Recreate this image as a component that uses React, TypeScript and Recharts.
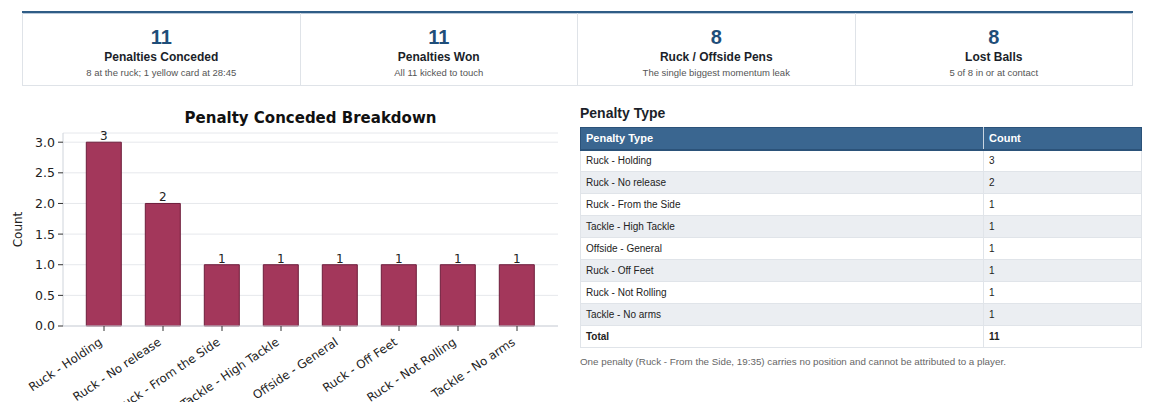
import React from 'react';
import { BarChart, Bar, XAxis, YAxis, CartesianGrid, LabelList } from 'recharts';

const categories = [
  'Ruck - Holding',
  'Ruck - No release',
  'Ruck - From the Side',
  'Tackle - High Tackle',
  'Offside - General',
  'Ruck - Off Feet',
  'Ruck - Not Rolling',
  'Tackle - No arms',
];
const counts = [3, 2, 1, 1, 1, 1, 1, 1];
const yTicks = [0, 0.5, 1, 1.5, 2, 2.5, 3];

const kpiValues = ['11', '11', '8', '8'];
const kpiLabels = ['Penalties Conceded', 'Penalties Won', 'Ruck / Offside Pens', 'Lost Balls'];
const kpiNotes = [
  '8 at the ruck; 1 yellow card at 28:45',
  'All 11 kicked to touch',
  'The single biggest momentum leak',
  '5 of 8 in or at contact',
];

const tableHeaders = ['Penalty Type', 'Count'];
const totalLabel = 'Total';
const totalValue = 11;
const footnote =
  'One penalty (Ruck - From the Side, 19:35) carries no position and cannot be attributed to a player.';

const chartData = categories.map((name, i) => ({ name, count: counts[i] }));

const SANS = '"Liberation Sans", Arial, Helvetica, sans-serif';
const DJ = '"DejaVu Sans", sans-serif';

const XTick = (props: any) => {
  const { x, y, payload } = props;
  const px = x - 1;
  const py = y + 11;
  return (
    <text
      x={px}
      y={py}
      transform={`rotate(-34 ${px} ${py})`}
      textAnchor="end"
      fontSize={11.8}
      fontFamily={DJ}
      fill="#222"
    >
      {payload.value}
    </text>
  );
};

const CountLabel = (props: any) => {
  const { viewBox } = props;
  const cy = viewBox ? viewBox.y + viewBox.height / 2 : 230;
  return (
    <text
      x={22}
      y={cy}
      transform={`rotate(-90 22 ${cy})`}
      textAnchor="middle"
      fontSize={12}
      fontFamily={DJ}
      fill="#222"
    >
      Count
    </text>
  );
};

const cellStyle: React.CSSProperties = { padding: '0 5px', border: '1px solid #e0e4e9' };

export default function App() {
  return (
    <div
      style={{
        position: 'absolute',
        left: 0,
        top: 0,
        width: 1152,
        height: 402,
        overflow: 'hidden',
        background: '#fff',
      }}
    >
      {/* KPI strip */}
      <div
        style={{
          position: 'absolute',
          left: 22,
          top: 11,
          width: 1111,
          height: 75,
          borderTop: '2px solid #2f5d86',
          boxShadow: '0 1px 0 #b9c9da inset',
          display: 'flex',
          boxSizing: 'border-box',
        }}
      >
        {kpiValues.map((v, i) => (
          <div
            key={i}
            style={{
              flex: 1,
              borderLeft: '1px solid #dfe3e8',
              borderRight: i === 3 ? '1px solid #dfe3e8' : 'none',
              borderBottom: '1px solid #dfe3e8',
              textAlign: 'center',
              fontFamily: SANS,
              position: 'relative',
            }}
          >
            <div
              style={{
                position: 'absolute',
                left: 0,
                right: 0,
                top: 12,
                fontSize: 20,
                fontWeight: 700,
                color: '#1f4e79',
                lineHeight: '24px',
              }}
            >
              {v}
            </div>
            <div
              style={{
                position: 'absolute',
                left: 0,
                right: 0,
                top: 36,
                fontSize: 12,
                fontWeight: 700,
                color: '#1b1f2a',
                lineHeight: '16px',
              }}
            >
              {kpiLabels[i]}
            </div>
            <div
              style={{
                position: 'absolute',
                left: 0,
                right: 0,
                top: 54,
                fontSize: 9.5,
                color: '#555',
                lineHeight: '12px',
              }}
            >
              {kpiNotes[i]}
            </div>
          </div>
        ))}
      </div>

      {/* Chart title */}
      <div
        style={{
          position: 'absolute',
          left: 63,
          width: 495,
          top: 108,
          textAlign: 'center',
          fontFamily: DJ,
          fontWeight: 700,
          fontSize: 15,
          lineHeight: '20px',
          color: '#111',
        }}
      >
        Penalty Conceded Breakdown
      </div>

      {/* Bar chart */}
      <div style={{ position: 'absolute', left: 0, top: 0 }}>
        <BarChart
          width={570}
          height={402}
          data={chartData}
          margin={{ top: 133, right: 12, bottom: 46, left: 0 }}
          barCategoryGap="20%"
        >
          <CartesianGrid vertical={false} stroke="#e6e8ec" strokeWidth={1} />
          <XAxis
            dataKey="name"
            interval={0}
            height={30}
            padding={{ left: 11.5, right: 11.5 }}
            axisLine={{ stroke: '#cfd4db' }}
            tickLine={{ stroke: '#333' }}
            tickSize={5}
            tickMargin={2}
            tick={<XTick />}
          />
          <YAxis
            width={63}
            type="number"
            domain={[0, 3.15]}
            ticks={yTicks}
            tickFormatter={(v: number) => v.toFixed(1)}
            axisLine={{ stroke: '#cfd4db' }}
            tickLine={{ stroke: '#333' }}
            tickSize={5}
            tickMargin={3}
            tick={{ fontSize: 12.5, fontFamily: DJ, fill: '#222' }}
            label={<CountLabel />}
          />
          <Bar
            dataKey="count"
            fill="#a3375b"
            stroke="#6d1d3b"
            strokeWidth={1}
            isAnimationActive={false}
          >
            <LabelList
              dataKey="count"
              position="top"
              offset={2}
              fontSize={12}
              fontFamily={DJ}
              fill="#222"
            />
          </Bar>
        </BarChart>
      </div>

      {/* Table */}
      <div
        style={{
          position: 'absolute',
          left: 580,
          top: 104,
          fontFamily: SANS,
          fontSize: 14,
          fontWeight: 700,
          color: '#1b1f2a',
          lineHeight: '18px',
        }}
      >
        Penalty Type
      </div>
      <table
        style={{
          position: 'absolute',
          left: 580,
          top: 127,
          width: 561,
          borderCollapse: 'collapse',
          fontFamily: SANS,
          fontSize: 10,
          color: '#222',
          tableLayout: 'fixed',
        }}
      >
        <colgroup>
          <col style={{ width: 403 }} />
          <col style={{ width: 158 }} />
        </colgroup>
        <thead>
          <tr style={{ height: 22 }}>
            {tableHeaders.map((h, i) => (
              <th
                key={h}
                style={{
                  background: '#3a6690',
                  color: '#fff',
                  fontSize: 11,
                  fontWeight: 700,
                  textAlign: 'left',
                  padding: '0 5px',
                  borderTop: '1px solid #2b5279',
                  borderBottom: '2px solid #2b5279',
                  borderLeft: i === 0 ? '1px solid #2b5279' : '1px solid #c9d5e1',
                  borderRight: i === 1 ? '1px solid #2b5279' : '1px solid #c9d5e1',
                }}
              >
                {h}
              </th>
            ))}
          </tr>
        </thead>
        <tbody>
          {categories.map((c, i) => (
            <tr key={c} style={{ height: 22, background: i % 2 === 1 ? '#ebeef2' : '#fff' }}>
              <td style={cellStyle}>{c}</td>
              <td style={cellStyle}>{counts[i]}</td>
            </tr>
          ))}
          <tr style={{ height: 22, background: '#fff' }}>
            <td style={{ ...cellStyle, fontWeight: 700 }}>{totalLabel}</td>
            <td style={{ ...cellStyle, fontWeight: 700 }}>{totalValue}</td>
          </tr>
        </tbody>
      </table>
      <div
        style={{
          position: 'absolute',
          left: 580,
          top: 356,
          fontFamily: SANS,
          fontSize: 9.8,
          color: '#666',
          lineHeight: '12px',
        }}
      >
        {footnote}
      </div>
    </div>
  );
}
